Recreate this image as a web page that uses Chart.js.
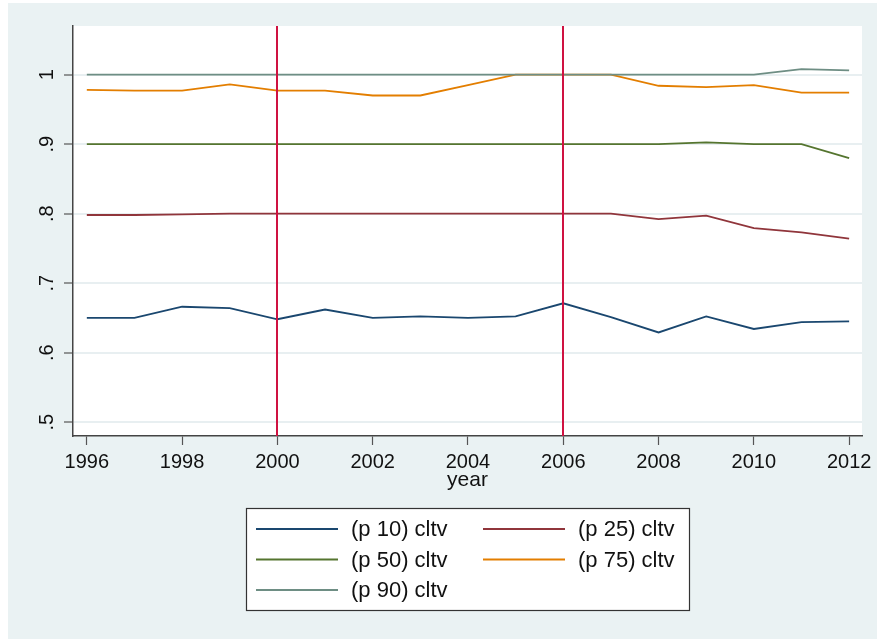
<!DOCTYPE html>
<html>
<head>
<meta charset="utf-8">
<script src="https://cdn.jsdelivr.net/npm/chart.js@4"></script>
<style>
body { margin: 0; background: #ffffff; }
#wrap { position: absolute; left: 8px; top: 3px; }
</style>
</head>
<body>
<div id="wrap"><canvas id="cltvChart" width="869" height="636"></canvas></div>
<script>
const years = [1996, 1997, 1998, 1999, 2000, 2001, 2002, 2003, 2004, 2005, 2006, 2007, 2008, 2009, 2010, 2011, 2012];

const p10 = [0.650, 0.650, 0.666, 0.664, 0.648, 0.662, 0.650, 0.652, 0.650, 0.652, 0.671, 0.651, 0.629, 0.652, 0.634, 0.644, 0.645];
const p25 = [0.798, 0.798, 0.799, 0.800, 0.800, 0.800, 0.800, 0.800, 0.800, 0.800, 0.800, 0.800, 0.792, 0.797, 0.779, 0.773, 0.764];
const p50 = [0.900, 0.900, 0.900, 0.900, 0.900, 0.900, 0.900, 0.900, 0.900, 0.900, 0.900, 0.900, 0.900, 0.9025, 0.900, 0.900, 0.880];
const p75 = [0.978, 0.977, 0.977, 0.986, 0.977, 0.977, 0.970, 0.970, 0.985, 1.000, 1.000, 1.000, 0.984, 0.982, 0.985, 0.974, 0.974];
const p90 = [1.000, 1.000, 1.000, 1.000, 1.000, 1.000, 1.000, 1.000, 1.000, 1.000, 1.000, 1.000, 1.000, 1.000, 1.000, 1.008, 1.006];

const seriesNames = ["(p 10) cltv", "(p 25) cltv", "(p 50) cltv", "(p 75) cltv", "(p 90) cltv"];
const seriesValues = [p10, p25, p50, p75, p90];
const seriesColors = ["#1a476f", "#90353b", "#55752f", "#e37e00", "#6e8e84"];

const xTicks = [1996, 1998, 2000, 2002, 2004, 2006, 2008, 2010, 2012];
const yTicks = [0.5, 0.6, 0.7, 0.8, 0.9, 1];
const yTickLabels = [".5", ".6", ".7", ".8", ".9", "1"];
const refYears = [2000, 2006];
const xTitle = "year";

const FONT = "'Liberation Sans', Arial, sans-serif";


// stata style: background, rotated y labels, reference lines, legend box
const stataLook = {
    id: "stataLook",

    beforeDraw(chart) {
        const ctx = chart.ctx;
        const a = chart.chartArea;
        ctx.save();
        ctx.fillStyle = "#eaf2f3";
        ctx.fillRect(0, 0, chart.width, chart.height);
        ctx.fillStyle = "#ffffff";
        ctx.fillRect(a.left, a.top, a.right - a.left, a.bottom - a.top);
        ctx.restore();
    },

    afterDatasetsDraw(chart) {
        const ctx = chart.ctx;
        const a = chart.chartArea;
        const x = chart.scales.x;
        ctx.save();
        ctx.strokeStyle = "#cf1241";
        ctx.lineWidth = 2;
        refYears.forEach(yr => {
            const px = Math.round(x.getPixelForValue(yr));
            ctx.beginPath();
            ctx.moveTo(px, a.top);
            ctx.lineTo(px, a.bottom);
            ctx.stroke();
        });
        ctx.restore();
    },

    afterDraw(chart) {
        const ctx = chart.ctx;
        const a = chart.chartArea;
        const y = chart.scales.y;

        ctx.save();
        ctx.fillStyle = "#111111";

        // Y TICK LABELS (rotated)
        ctx.font = "20px " + FONT;
        ctx.textAlign = "center";
        ctx.textBaseline = "alphabetic";
        yTicks.forEach((v, i) => {
            ctx.save();
            ctx.translate(a.left - 20, y.getPixelForValue(v));
            ctx.rotate(-Math.PI / 2);
            ctx.fillText(yTickLabels[i], 0, 0);
            ctx.restore();
        });

        // X TITLE
        ctx.font = "21px " + FONT;
        ctx.fillText(xTitle, (a.left + a.right) / 2, a.bottom + 50);

        // LEGEND
        const bx = 238, by = 505, bw = 443, bh = 102;
        ctx.fillStyle = "#ffffff";
        ctx.fillRect(bx, by, bw, bh);
        ctx.strokeStyle = "#333333";
        ctx.lineWidth = 1.2;
        ctx.strokeRect(bx + 0.5, by + 0.5, bw, bh);

        const colX = [248, 475];
        const rowY = [526, 556.5, 587];
        ctx.font = "22px " + FONT;
        ctx.textAlign = "left";
        ctx.textBaseline = "middle";
        chart.data.datasets.forEach((ds, i) => {
            const cx = colX[i % 2];
            const cy = rowY[Math.floor(i / 2)];
            ctx.strokeStyle = ds.borderColor;
            ctx.lineWidth = 2;
            ctx.beginPath();
            ctx.moveTo(cx, cy);
            ctx.lineTo(cx + 82, cy);
            ctx.stroke();
            ctx.fillStyle = "#111111";
            ctx.fillText(ds.label, cx + 95, cy + 1);
        });

        ctx.restore();
    }
};


const datasets = seriesValues.map((vals, i) => ({
    label: seriesNames[i],
    data: years.map((yr, j) => ({ x: yr, y: vals[j] })),
    borderColor: seriesColors[i],
    backgroundColor: seriesColors[i],
    borderWidth: 1.8,
    pointRadius: 0,
    tension: 0,
    fill: false,
    order: seriesValues.length - i
}));


new Chart(document.getElementById("cltvChart"), {
    type: "line",
    data: { datasets: datasets },
    plugins: [stataLook],
    options: {
        responsive: false,
        animation: false,
        events: [],
        layout: {
            padding: { left: 0, right: 15, top: 23, bottom: 133 }
        },
        plugins: {
            legend: { display: false },
            tooltip: { enabled: false }
        },
        scales: {
            x: {
                type: "linear",
                min: 1995.71,
                max: 2012.27,
                afterBuildTicks(scale) {
                    scale.ticks = xTicks.map(v => ({ value: v }));
                },
                afterFit(scale) {
                    scale.height = 70;
                },
                grid: {
                    drawOnChartArea: false,
                    drawTicks: true,
                    tickLength: 9,
                    tickColor: "#555555",
                    tickWidth: 1.2
                },
                border: { display: true, color: "#444444", width: 1.5 },
                ticks: {
                    color: "#111111",
                    padding: 5,
                    maxRotation: 0,
                    autoSkip: false,
                    font: { family: FONT, size: 20 },
                    callback: v => String(v)
                }
            },
            y: {
                min: 0.48,
                max: 1.07,
                afterBuildTicks(scale) {
                    scale.ticks = yTicks.map(v => ({ value: v }));
                },
                afterFit(scale) {
                    scale.width = 65;
                },
                grid: {
                    color: "#e8eff1",
                    lineWidth: 2,
                    drawTicks: true,
                    tickLength: 9,
                    tickColor: "#555555",
                    tickWidth: 1.2
                },
                border: { display: true, color: "#444444", width: 1.5 },
                ticks: {
                    color: "rgba(0,0,0,0)",
                    font: { family: FONT, size: 20 }
                }
            }
        }
    }
});
</script>
</body>
</html>
